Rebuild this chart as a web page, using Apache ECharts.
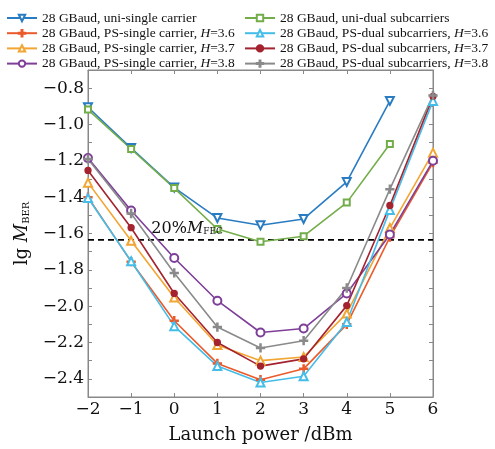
<!DOCTYPE html>
<html>
<head>
<meta charset="utf-8">
<script src="https://cdn.jsdelivr.net/npm/echarts@6/dist/echarts.min.js"></script>
<style>
  html, body { margin: 0; padding: 0; background: #fff; }
  #main { width: 495px; height: 449px; }
</style>
</head>
<body>
<div id="main"></div>
<script>
// 横轴：发射功率 dBm
var power = [-2, -1, 0, 1, 2, 3, 4, 5, 6];

// 各曲线 lg(BER)
var uniSingle  = [-0.905, -1.13, -1.347, -1.515, -1.555, -1.52, -1.316, -0.87, null];
var uniDual    = [-0.918, -1.135, -1.35, -1.575, -1.645, -1.615, -1.43, -1.107, null];
var psSingle36 = [-1.40, -1.755, -2.08, -2.315, -2.405, -2.345, -2.10, -1.62, -1.21];
var psSingle37 = [-1.32, -1.64, -1.952, -2.214, -2.30, -2.28, -2.04, -1.57, -1.155];
var psSingle38 = [-1.185, -1.473, -1.735, -1.97, -2.145, -2.123, -1.93, -1.605, -1.2];
var psDual36   = [-1.405, -1.753, -2.11, -2.33, -2.42, -2.386, -2.087, -1.47, -0.87];
var psDual37   = [-1.253, -1.568, -1.93, -2.20, -2.33, -2.29, -1.997, -1.446, -0.845];
var psDual38   = [-1.19, -1.49, -1.817, -2.115, -2.23, -2.19, -1.90, -1.356, -0.84];

var fecLimit = -1.635;
var fecLabelAt = [0.3, -1.635];
var yTickLabels = ['-2.4', '-2.2', '-2.0', '-1.8', '-1.6', '-1.4', '-1.2', '-1.0', '-0.8'];

var names = [
  '28 GBaud, uni-single carrier',
  '28 GBaud, PS-single carrier, H=3.6',
  '28 GBaud, PS-single carrier, H=3.7',
  '28 GBaud, PS-single carrier, H=3.8',
  '28 GBaud, uni-dual subcarriers',
  '28 GBaud, PS-dual subcarriers, H=3.6',
  '28 GBaud, PS-dual subcarriers, H=3.7',
  '28 GBaud, PS-dual subcarriers, H=3.8'
];

var plusPath = 'path://M3.4,0h1.2v3.4h3.4v1.2h-3.4v3.4h-1.2v-3.4h-3.4v-1.2h3.4z';

function pairs(arr) {
  var out = [];
  for (var i = 0; i < power.length; i++) {
    if (arr[i] !== null) out.push([power[i], arr[i]]);
  }
  return out;
}

function mk(name, arr, color, symbol, size, extra) {
  var s = {
    name: name,
    type: 'line',
    data: pairs(arr),
    symbol: symbol,
    symbolSize: size,
    showAllSymbol: true,
    lineStyle: { color: color, width: 1.6 },
    itemStyle: { color: color, borderColor: color, borderWidth: 1.3 },
    z: 3
  };
  if (extra) for (var k in extra) s[k] = extra[k];
  return s;
}

var serif = 'DejaVu Serif';
var myChart = echarts.init(document.getElementById('main'));

function legendFmt(n) {
  return n.replace('H=', '{i|H}=');
}
var legendText = {
  fontFamily: 'Liberation Serif',
  fontSize: 13.5,
  color: '#111',
  rich: { i: { fontFamily: 'Liberation Serif', fontSize: 13.5, fontStyle: 'italic', color: '#111' } }
};

function tickShown(i, v) {
  return yTickLabels.indexOf(Number(v).toFixed(1)) >= 0;
}

var option = {
  animation: false,
  legend: [{
    orient: 'vertical',
    left: 1,
    top: 6,
    itemGap: 1.2,
    itemWidth: 30,
    itemHeight: 8,
    data: names.slice(0, 4),
    formatter: legendFmt,
    textStyle: legendText
  }, {
    orient: 'vertical',
    left: 239,
    top: 6,
    itemGap: 1.2,
    itemWidth: 30,
    itemHeight: 8,
    data: names.slice(4),
    formatter: legendFmt,
    textStyle: legendText
  }],
  grid: {
    left: 88, right: 62, top: 70, bottom: 50,
    show: true, borderColor: '#888', borderWidth: 1
  },
  xAxis: [{
    type: 'value',
    min: -2, max: 6, interval: 1,
    name: 'Launch power /dBm',
    nameLocation: 'middle',
    nameGap: 29,
    nameTextStyle: { fontFamily: serif, fontSize: 18, color: '#111' },
    axisLine: { onZero: false, lineStyle: { color: '#888' } },
    axisTick: { inside: true, length: 4, lineStyle: { color: '#888' } },
    axisLabel: {
      fontFamily: serif, fontSize: 17, color: '#111', margin: 4,
      formatter: function (v) { return String(v).replace('-', '\u2212'); }
    },
    splitLine: { show: false }
  }, {
    type: 'value', position: 'top',
    min: -2, max: 6, interval: 1,
    axisLine: { onZero: false, lineStyle: { color: '#888' } },
    axisTick: { inside: true, length: 4, lineStyle: { color: '#888' } },
    axisLabel: { show: false },
    splitLine: { show: false }
  }],
  yAxis: [{
    type: 'value',
    min: -2.5, max: -0.7, interval: 0.1,
    name: 'lg {i|M}{s|BER}',
    nameLocation: 'middle',
    nameRotate: 90,
    nameGap: 53,
    nameTextStyle: {
      fontFamily: serif, fontSize: 18, color: '#111',
      rich: {
        i: { fontFamily: serif, fontSize: 18, fontStyle: 'italic', color: '#111' },
        s: { fontFamily: serif, fontSize: 10, color: '#111', verticalAlign: 'bottom', lineHeight: 12 }
      }
    },
    axisLine: { onZero: false, lineStyle: { color: '#888' } },
    axisTick: { inside: true, length: 4, lineStyle: { color: '#888' }, interval: tickShown },
    axisLabel: {
      fontFamily: serif, fontSize: 17, color: '#111', margin: 4,
      interval: tickShown,
      formatter: function (v) {
        var t = Number(v).toFixed(1);
        return yTickLabels.indexOf(t) >= 0 ? t.replace('-', '\u2212') : '';
      }
    },
    splitLine: { show: false }
  }, {
    type: 'value', position: 'right',
    min: -2.5, max: -0.7, interval: 0.1,
    axisLine: { onZero: false, lineStyle: { color: '#888' } },
    axisTick: { inside: true, length: 4, lineStyle: { color: '#888' }, interval: tickShown },
    axisLabel: { show: false },
    splitLine: { show: false }
  }],
  series: [
    {
      name: 'FEC',
      type: 'line',
      data: [[-2, fecLimit], [6, fecLimit]],
      symbol: 'none',
      silent: true,
      lineStyle: { color: '#000', type: [6, 4], width: 1.6 },
      z: 2,
      markPoint: {
        symbol: 'circle',
        symbolSize: 1,
        itemStyle: { color: 'rgba(0,0,0,0)' },
        data: [{ coord: fecLabelAt }],
        label: {
          show: true,
          position: 'top',
          distance: 3,
          formatter: '20%{i|M}{s|FEC}',
          fontFamily: serif, fontSize: 16, color: '#111',
          rich: {
            i: { fontFamily: serif, fontSize: 16, fontStyle: 'italic', color: '#111' },
            s: { fontFamily: serif, fontSize: 9, color: '#111', verticalAlign: 'bottom', lineHeight: 10 }
          }
        }
      }
    },
    mk(names[0], uniSingle, '#2a7cc2', 'emptyTriangle', 8, { symbolRotate: 180 }),
    mk(names[1], psSingle36, '#ea5a2b', plusPath, 8),
    mk(names[2], psSingle37, '#f2a532', 'emptyTriangle', 8),
    mk(names[3], psSingle38, '#7e3f98', 'emptyCircle', 8),
    mk(names[4], uniDual, '#73ad4a', 'emptyRect', 6),
    mk(names[5], psDual36, '#45bde9', 'emptyTriangle', 8),
    mk(names[6], psDual37, '#a4232f', 'circle', 6),
    mk(names[7], psDual38, '#8a8a8a', plusPath, 8)
  ]
};

myChart.setOption(option);
</script>
</body>
</html>
